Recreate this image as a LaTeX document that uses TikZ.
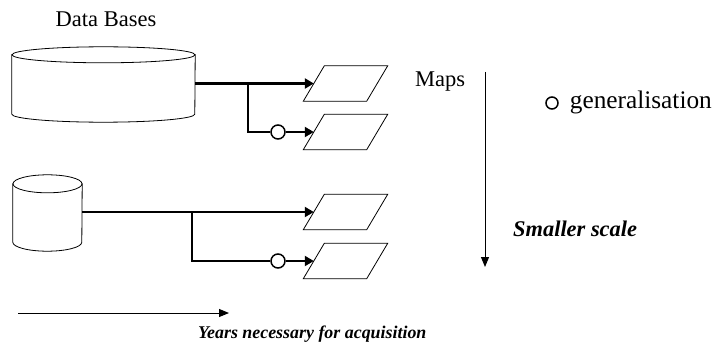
\documentclass[tikz,border=0pt]{standalone}
\usepackage{fontspec}
\setmainfont{Liberation Serif}
\usetikzlibrary{arrows.meta,calc}
\tikzset{
  mapbox/.style={minimum width=63pt, minimum height=35pt, inner sep=0pt},
  mapline/.style={line width=0.8pt},
  dbline/.style={line width=0.8pt},
  gen/.style={circle, draw, fill=white, minimum size=14pt, inner sep=0pt, line width=1.5pt},
  thickline/.style={line width=3pt},
  medline/.style={line width=2pt},
  thinline/.style={line width=1pt},
  tip/.style={-{Triangle[length=9pt,width=10pt]}},
  thintip/.style={-{Triangle[length=10pt,width=8pt]}},
  plain/.style={font=\fontsize{22.5}{26}\selectfont, inner sep=0pt},
  bi/.style={font=\bfseries\itshape, inner sep=0pt},
}
\newcommand\mapshape[1]{\draw[mapline,fill=white] ($(#1.south west)+(-10.5pt,0)$) -- ($(#1.south east)+(-10.5pt,0)$) -- ($(#1.north east)+(10.5pt,0)$) -- ($(#1.north west)+(10.5pt,0)$) -- cycle;}
\newcommand\dbshape[3]{% name, x radius, y radius
  \draw[dbline,fill=white] (#1.north west) -- (#1.south west) arc[start angle=180,end angle=360,x radius=#2,y radius=#3] -- (#1.north east) -- cycle;
  \draw[dbline,fill=white] (#1.north) ellipse[x radius=#2,y radius=#3];}
\begin{document}
\begin{tikzpicture}[x=1pt,y=-1pt]
\useasboundingbox (0,0) rectangle (714,342);
% data bases
\node[inner sep=0pt, minimum width=183pt, minimum height=59pt] (db1) at (103.5,84.5) {};
\dbshape{db1}{91.5pt}{8pt}
\node[inner sep=0pt, minimum width=69pt, minimum height=58pt] (db2) at (47.5,213) {};
\dbshape{db2}{34.5pt}{9pt}
\node[plain, anchor=base] (dbl) at (106,27) {Data Bases};
% maps
\node[mapbox] (m1) at (345.5,83.5) {};
\node[mapbox] (m2) at (345.5,132) {};
\node[mapbox] (m3) at (345.5,212) {};
\node[mapbox] (m4) at (345.5,261) {};
\mapshape{m1}\mapshape{m2}\mapshape{m3}\mapshape{m4}
\node[plain, anchor=base west] (mapsl) at (415,87) {Maps};
% generalisation circles
\node[gen] (g1) at (278,132) {};
\node[gen] (g2) at (278,261) {};
% connectors top
\draw[thickline, tip] (db1.east |- m1.west) -- (m1.west);
\coordinate (b1) at (248,83.5);
\draw[medline] (b1) |- (g1.west);
\draw[medline, tip] (g1.east) -- (m2.west);
% connectors bottom
\draw[medline, tip] (db2.east |- m3.west) -- (m3.west);
\coordinate (b2) at (192,212);
\draw[medline] (b2) |- (g2.west);
\draw[medline, tip] (g2.east) -- (m4.west);
% scale arrow
\coordinate (v1) at (485,72);
\coordinate (v2) at (485,267);
\draw[thinline, thintip] (v1) -- (v2);
\node[bi, anchor=base west, font=\bfseries\itshape\fontsize{22.4}{26}\selectfont] (ss) at (513,236) {Smaller scale};
% legend
\node[circle, draw, line width=1.5pt, minimum size=12pt, inner sep=0pt] (lg) at (552,103) {};
\node[inner sep=0pt, anchor=base east, font=\fontsize{25.3}{30}\selectfont] (lgt) at (712,109) {generalisation};
% years arrow
\coordinate (h1) at (18,313);
\coordinate (h2) at (229,313);
\draw[thinline, thintip] (h1) -- (h2);
\node[bi, anchor=base west, font=\bfseries\itshape\fontsize{17.9}{21}\selectfont] (yrs) at (198,338) {Years necessary for acquisition};
\end{tikzpicture}
\end{document}
